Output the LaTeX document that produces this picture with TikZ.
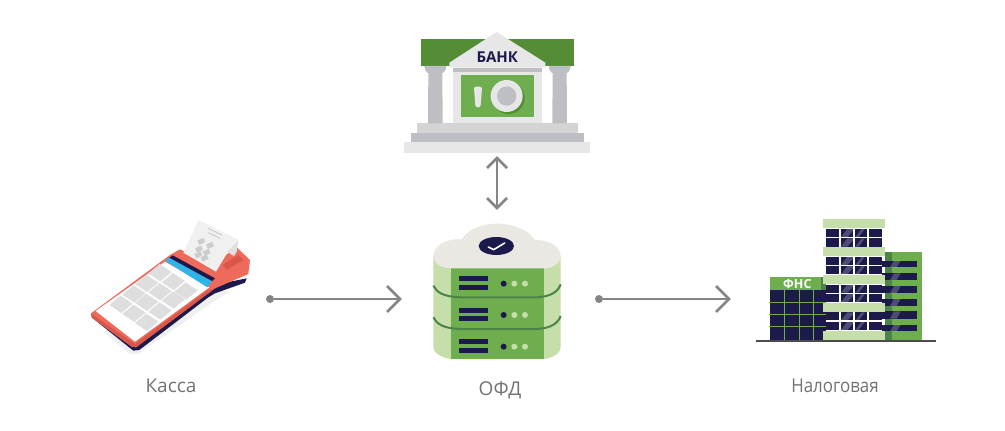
\documentclass[tikz,border=0pt]{standalone}
\usepackage{fontspec}
\setmainfont{Open Sans}
\definecolor{ink}{HTML}{1C1A4B}
\definecolor{gmid}{HTML}{6FAE4E}
\definecolor{gdark}{HTML}{558C36}
\definecolor{gline}{HTML}{4A8449}
\definecolor{glight}{HTML}{C6DEAA}
\definecolor{stone}{HTML}{E6E7E6}
\definecolor{slate}{HTML}{BDBFC4}
\definecolor{cloudc}{HTML}{EBE8E3}
\definecolor{redc}{HTML}{EE6A5A}
\definecolor{redd}{HTML}{D9574A}
\definecolor{bluec}{HTML}{2FB4EA}
\definecolor{keyc}{HTML}{DEDEDE}
\definecolor{flowc}{HTML}{858585}
\tikzset{
  flow/.style={draw=flowc,line width=2.3pt},
  chevron/.style={draw=flowc,line width=2.6pt,line cap=butt,line join=miter},
  startdot/.style={circle,fill=flowc,inner sep=0pt,minimum size=8pt},
  caption/.style={text=black!55,font=\fontsize{19}{22}\selectfont,inner sep=0pt},
  windowc/.style={fill=ink},
  streak/.style={fill=white,fill opacity=.22},
}
\begin{document}
\begin{tikzpicture}[x=1pt,y=-1pt]
\useasboundingbox (0,0) rectangle (1005,431);
\fill[white] (0,0) rectangle (1005,431);

% ---------- bank (3x zoom coordinates)
\begin{scope}[shift={(390,20)},scale=1/3]
\fill[gdark] (93,57) rectangle (552,138);
\fill[stone] (43,367) rectangle (601,398);
\fill[slate] (64,338) rectangle (581,367);
\fill[stone!92!black] (82,310) rectangle (563,338);
\foreach \cx in {136,509}{
  \fill[slate] (\cx-21,160) -- (\cx+21,160) -- (\cx+22,310) -- (\cx-22,310) -- cycle;
  \fill[slate] (\cx-33,138) -- (\cx+33,138) .. controls (\cx+33,155) and (\cx+20,162) .. (\cx+14,162) -- (\cx-14,162) .. controls (\cx-20,162) and (\cx-33,155) .. (\cx-33,138) -- cycle;
}
\fill[stone] (188,145) rectangle (456,310);
\fill[slate] (188,145) rectangle (456,157);
\fill[gmid] (212,166) rectangle (432,292);
\fill[stone] (320,36) -- (466,128) -- (466,143) -- (178,143) -- (178,128) -- cycle;
\fill[gdark] (356,234) circle[radius=48];
\fill[stone] (350,228) circle[radius=48];
\fill[slate] (350,228) circle[radius=29];
\fill[stone] (252,204) .. controls (252,198) and (276,198) .. (276,204) -- (272,256) .. controls (271,264) and (257,264) .. (256,256) -- cycle;
\node[text=ink,font=\bfseries\fontsize{15}{17}\selectfont,inner sep=0pt] (banktext) at (322,110) {БАНК};
\end{scope}

% ---------- till (3x zoom coordinates)
\begin{scope}[shift={(80,210)},scale=1/3]
\fill[black!6] (70,365) -- (150,432) -- (175,432) -- (400,275) -- (450,245) -- (400,240) -- cycle;
\fill[ink] (35,322) -- (160,422) -- (178,420) -- (385,262) -- (405,250) -- (495,218) -- (500,205) -- (400,225) -- cycle;
\fill[redc] (33,310) -- (270,135) -- (300,118) -- (395,165) -- (470,112) -- (510,150) -- (505,192) -- (405,235) -- (168,412) -- (155,410) -- (35,322) -- cycle;
\fill[redd] (168,412) -- (155,410) -- (35,322) -- (33,310) -- (165,402) -- (385,240) -- (405,235) -- cycle;
\fill[white] (47,303) -- (255,155) -- (388,232) -- (165,395) -- cycle;
\fill[bluec] (255,152) -- (268,143) -- (396,213) -- (382,232) -- cycle;
\fill[ink] (268,143) -- (278,136) -- (405,205) -- (396,213) -- cycle;
\foreach \cx/\cy in {240/188,280/215,318/243,200/220,240/245,280/270,162/252,200/277,240/303,123/283,162/310,200/337}
  \fill[keyc] (\cx-35,\cy+2) -- (\cx-1,\cy-26) -- (\cx+35,\cy-2) -- (\cx+1,\cy+26) -- cycle;
\fill[redd] (428,165) -- (475,135) -- (490,150) -- (440,180) -- cycle;
\fill[black!12] (440,125) -- (475,90) -- (470,125) -- (462,138) -- cycle;
\fill[black!6] (310,128) -- (355,30) -- (475,90) .. controls (455,100) and (445,115) .. (438,135) -- (408,185) -- cycle;
\foreach \qx/\qy in {352/92,378/104,345/115,368/125,343/132,362/142}
  \fill[black!20,rotate around={25:(\qx,\qy)}] (\qx,\qy) rectangle ++(20,14);
\draw[black!22,line width=.8pt] (385,55) -- (425,75);
\draw[black!22,line width=.8pt] (385,68) -- (420,85);
\end{scope}

% ---------- server (3x zoom coordinates)
\begin{scope}[shift={(420,215)},scale=1/3]
\fill[glight] (40,125) -- (422,125) -- (422,398) .. controls (422,415) and (395,430) .. (372,432) -- (92,432) .. controls (70,430) and (40,415) .. (40,398) -- cycle;
\fill[gmid] (92,150) rectangle (372,432);
\foreach \ly in {0,95}{
  \draw[gline,line width=2pt] (40,\ly+212) .. controls (50,\ly+232) and (70,\ly+245) .. (120,\ly+247) -- (350,\ly+247) .. controls (395,\ly+245) and (415,\ly+228) .. (422,\ly+208);
}
\fill[cloudc] (40,125) .. controls (40,90) and (80,70) .. (125,73) .. controls (145,40) and (190,26) .. (230,26) .. controls (280,26) and (325,45) .. (345,75) .. controls (390,75) and (422,95) .. (422,125) .. controls (422,145) and (395,160) .. (372,160) -- (92,160) .. controls (65,160) and (40,145) .. (40,125) -- cycle;
\fill[ink] (229,93) ellipse[x radius=53,y radius=27];
\draw[white,line width=1.6pt,line cap=round,line join=round] (205,96) -- (221,104) -- (254,84);
\foreach \ry in {0,94,189}{
  \fill[ink] (116,184+\ry) rectangle (204,199+\ry);
  \fill[ink] (116,209+\ry) rectangle (204,225+\ry);
  \fill[ink] (251,206+\ry) circle[radius=9];
  \fill[glight] (283,206+\ry) circle[radius=9];
  \fill[glight] (315,206+\ry) circle[radius=9];
}
\end{scope}

% ---------- tax office (3x zoom coordinates)
\begin{scope}[shift={(750,210)},scale=1/3]
\fill[gmid] (405,125) rectangle (515,390);
\fill[gline] (405,125) rectangle (427,390);
\foreach \ya/\yb in {152/172,190/210,228/250,266/288,304/326,344/364}{
  \fill[windowc] (397,\ya) rectangle (500,\yb);
  \fill[streak] (420,\yb) -- (432,\ya) -- (452,\ya) -- (440,\yb) -- cycle;
}
\fill[gmid] (60,200) rectangle (227,240);
\fill[gline] (212,200) rectangle (227,240);
\fill[windowc] (60,240) rectangle (227,390);
\foreach \vx in {103,147,190} \fill[gmid] (\vx-1.5,240) rectangle (\vx+1.5,390);
\foreach \hy in {277,313,349} \fill[gmid] (58,\hy-1.5) rectangle (227,\hy+1.5);
\node[text=white,font=\bfseries\fontsize{12.5}{14}\selectfont,inner sep=0pt] (fnstext) at (142,222) {ФНС};
\fill[white] (227,55) rectangle (397,390);
\foreach \wa/\wb in {56/82,85/110,140/165,168/193,224/248,252/277,307/331,335/360}{
  \foreach \ca/\cb in {227/267,273/310,316/352,358/397}{
    \fill[windowc] (\ca,\wa) rectangle (\cb,\wb);
  }
  \fill[streak] (273,\wb) -- (292,\wa) -- (310,\wa) -- (310,\wa+5) -- (292,\wb) -- cycle;
  \fill[streak] (316,\wb) -- (335,\wa) -- (345,\wa) -- (326,\wb) -- cycle;
}
\foreach \sa/\sb in {28/55,112/138,195/222,279/305,362/390}
  \fill[glight] (220,\sa) rectangle (405,\sb);
\fill[black!70] (18,389) rectangle (557,395);
\end{scope}

% ---------- connectors
\node[startdot] (tilldot) at (270,299) {};
\coordinate (ofdin) at (400,299);
\node[startdot] (ofddot) at (599,299) {};
\coordinate (taxin) at (729,299);
\coordinate (bankend) at (497,158);
\coordinate (ofdend) at (497,208);
\draw[flow] (tilldot) -- (ofdin);
\draw[flow] (ofddot) -- (taxin);
\draw[flow] (bankend) -- (ofdend);
\draw[chevron] ([shift={(-13,-13)}]ofdin) -- (ofdin) -- ([shift={(-13,13)}]ofdin);
\draw[chevron] ([shift={(-13,-13)}]taxin) -- (taxin) -- ([shift={(-13,13)}]taxin);
\draw[chevron] ([shift={(-10,10)}]bankend) -- (bankend) -- ([shift={(10,10)}]bankend);
\draw[chevron] ([shift={(-10,-10)}]ofdend) -- (ofdend) -- ([shift={(10,-10)}]ofdend);

% ---------- captions
\node[caption] (kassa) at (171,386) {Касса};
\node[caption] (ofd) at (500,390) {ОФД};
\node[caption,transform shape,xscale=.89] (nalog) at (835,386) {Налоговая};
\end{tikzpicture}
\end{document}
